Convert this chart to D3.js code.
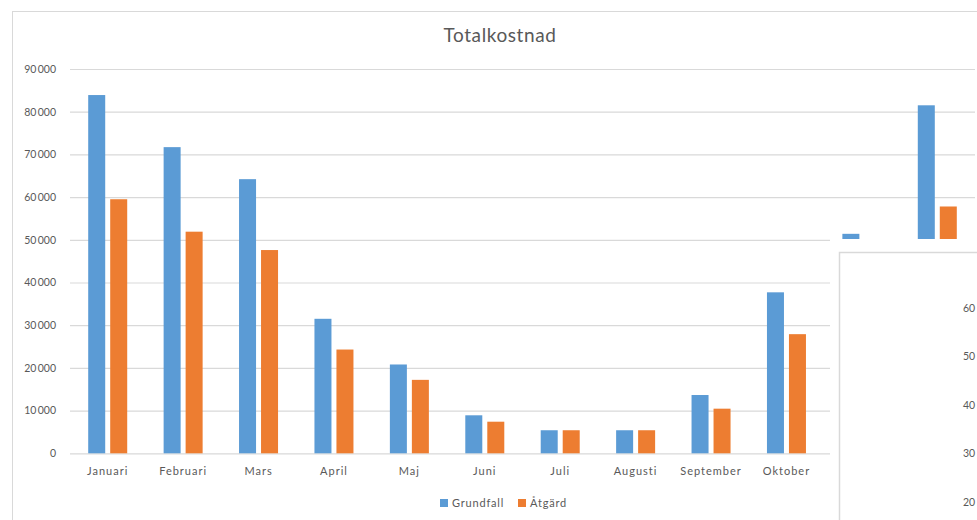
<!DOCTYPE html>
<html>
<head>
<meta charset="utf-8">
<script src="https://cdn.jsdelivr.net/npm/d3@7"></script>
<style>
  html, body { margin: 0; padding: 0; background: #fff; }
  svg { display: block; font-family: Lato, "Open Sans", sans-serif; }
</style>
</head>
<body>
<svg id="chart" width="977" height="520"></svg>
<script>
// Monthly total cost, base case vs. measure
const months = ["Januari", "Februari", "Mars", "April", "Maj", "Juni", "Juli",
                "Augusti", "September", "Oktober", "November", "December"];
const grundfall = [83900, 71700, 64200, 31500, 20800, 8900, 5400, 5400, 13650, 37700, 51400, 81500];
const atgard    = [59500, 51900, 47600, 24300, 17200, 7400, 5400, 5400, 10450, 27900, 38000, 57800];
const seriesNames = ["Grundfall", "Åtgärd"];
const seriesColors = ["#5b9bd5", "#ed7d31"];
const yTicks = [0, 10000, 20000, 30000, 40000, 50000, 60000, 70000, 80000, 90000];

// Second chart window lying on top (only its axis labels show)
const overlayTicks = [20, 30, 40, 50, 60];

const svg = d3.select("#chart");
const W = 977, H = 520;
const textColor = "#595959";
const gridColor = "#d9d9d9";

svg.append("rect").attr("width", W).attr("height", H).attr("fill", "#fff");

// chart area frame
svg.append("rect")
  .attr("x", 12.5).attr("y", 11.5)
  .attr("width", 1100).attr("height", 600)
  .attr("fill", "#fff").attr("stroke", gridColor);

const plot = { left: 70, right: 975, top: 69, bottom: 453.3 };

const x0 = d3.scaleBand().domain(months).range([plot.left, plot.right]).padding(0);
const x1 = d3.scaleBand().domain(seriesNames).range([0, 39]).paddingInner(0.227).paddingOuter(0);
const y = d3.scaleLinear().domain([0, 90000]).range([plot.bottom, plot.top]);

const fmt = d3.formatLocale({ decimal: ",", thousands: "\u2009", grouping: [3], currency: ["", " kr"] }).format(",d");

// title
svg.append("text")
  .attr("x", 500).attr("y", 42)
  .attr("text-anchor", "middle")
  .attr("font-size", 19)
  .attr("letter-spacing", 0.6)
  .attr("fill", textColor)
  .text("Totalkostnad");

// horizontal gridlines
const grid = svg.append("g")
  .attr("transform", `translate(${plot.left},0)`)
  .call(d3.axisLeft(y).tickValues(yTicks).tickSize(-(plot.right - plot.left)).tickFormat(""));
grid.select(".domain").remove();
grid.selectAll("line").attr("stroke", gridColor).attr("stroke-width", 1.2);

// y tick labels
const yAxis = svg.append("g")
  .attr("transform", `translate(${plot.left},0)`)
  .call(d3.axisLeft(y).tickValues(yTicks).tickSize(0).tickPadding(14).tickFormat(fmt));
yAxis.select(".domain").remove();
yAxis.selectAll("text")
  .attr("font-family", "Lato, sans-serif")
  .attr("font-size", 10.5).attr("fill", textColor);

// bars
const groups = svg.append("g").selectAll("g")
  .data(months.map((m, i) => ({ month: m, values: [grundfall[i], atgard[i]] })))
  .join("g")
  .attr("transform", d => `translate(${x0(d.month) + x0.bandwidth() / 2 - 19.5},0)`);

groups.selectAll("rect")
  .data(d => d.values.map((v, j) => ({ name: seriesNames[j], value: v, color: seriesColors[j] })))
  .join("rect")
  .attr("x", d => x1(d.name))
  .attr("width", x1.bandwidth())
  .attr("y", d => y(d.value))
  .attr("height", d => y(0) - y(d.value))
  .attr("fill", d => d.color);

// x category labels
const xAxis = svg.append("g")
  .attr("transform", `translate(0,${plot.bottom})`)
  .call(d3.axisBottom(x0).tickSize(0).tickPadding(14));
xAxis.select(".domain").remove();
xAxis.selectAll("text")
  .attr("font-family", "Lato, sans-serif")
  .attr("font-size", 11)
  .attr("letter-spacing", 1)
  .attr("fill", textColor);

// legend
const legendItems = [
  { name: seriesNames[0], color: seriesColors[0], x: 440 },
  { name: seriesNames[1], color: seriesColors[1], x: 518 }
];
const lg = svg.append("g").selectAll("g").data(legendItems).join("g")
  .attr("transform", d => `translate(${d.x},499)`);
lg.append("rect").attr("width", 8).attr("height", 8).attr("fill", d => d.color);
lg.append("text")
  .attr("x", 12).attr("y", 8)
  .attr("font-size", 11)
  .attr("letter-spacing", 0.8)
  .attr("fill", textColor)
  .text(d => d.name);

// overlapping chart window in the lower right
svg.append("rect")
  .attr("x", 830).attr("y", 239)
  .attr("width", W - 830).attr("height", H - 239)
  .attr("fill", "#fff");
svg.append("rect")
  .attr("x", 839.5).attr("y", 252.5)
  .attr("width", 300).attr("height", 400)
  .attr("fill", "#fff").attr("stroke", gridColor).attr("stroke-width", 1.5);

const yo = d3.scaleLinear().domain([20, 60]).range([502, 308]);
svg.append("g").selectAll("text").data(overlayTicks).join("text")
  .attr("x", 963).attr("y", d => yo(d))
  .attr("dy", "0.35em")
  .attr("font-size", 10.5).attr("fill", textColor)
  .text(d => d);
</script>
</body>
</html>
